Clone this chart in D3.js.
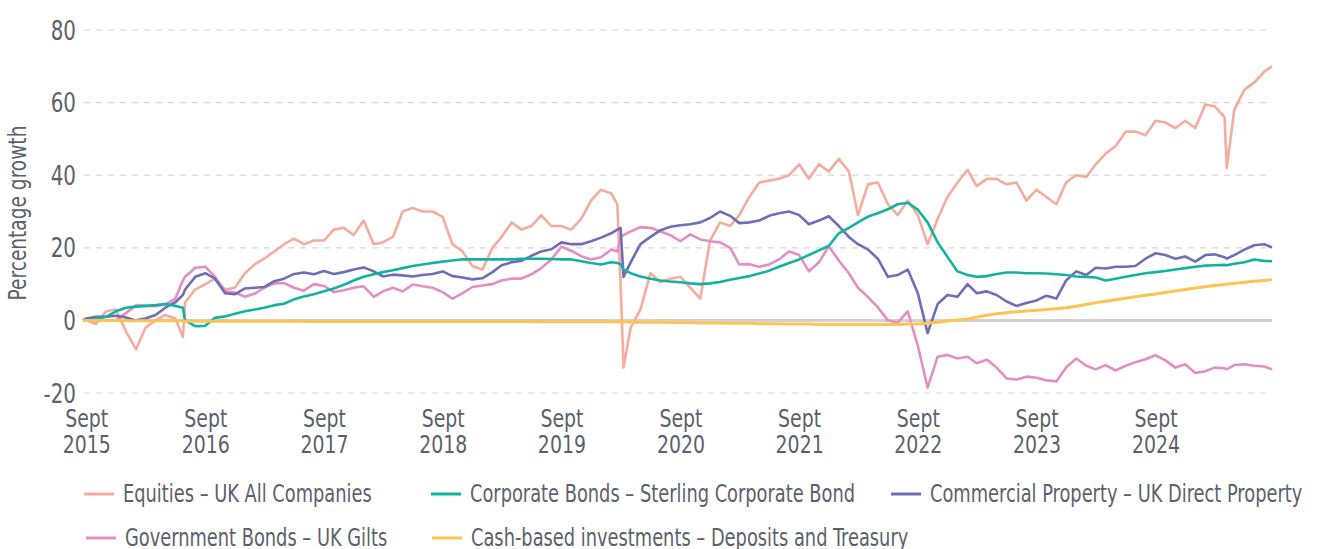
<!DOCTYPE html>
<meta charset="utf-8">
<script src="https://d3js.org/d3.v7.min.js"></script>
<style>
  body { margin: 0; background: #fff; }
  svg text { font-family: "DejaVu Sans Condensed", "DejaVu Sans", sans-serif; fill: #5b616a; }
</style>
<body>
<div id="canvas"></div>
<script>

// dates (monthly, plus a few extra days around sharp moves)
var dates = [
  "2015-08-22", "2015-09-01", "2015-10-01", "2015-11-01", "2015-12-01",
  "2016-01-01", "2016-02-01", "2016-03-01", "2016-04-01", "2016-05-01", "2016-06-01", "2016-06-24", "2016-07-01", "2016-08-01", "2016-09-01", "2016-10-01", "2016-11-01", "2016-12-01",
  "2017-01-01", "2017-02-01", "2017-03-01", "2017-04-01", "2017-05-01", "2017-06-01", "2017-07-01", "2017-08-01", "2017-09-01", "2017-10-01", "2017-11-01", "2017-12-01",
  "2018-01-01", "2018-02-01", "2018-03-01", "2018-04-01", "2018-05-01", "2018-06-01", "2018-07-01", "2018-08-01", "2018-09-01", "2018-10-01", "2018-11-01", "2018-12-01",
  "2019-01-01", "2019-02-01", "2019-03-01", "2019-04-01", "2019-05-01", "2019-06-01", "2019-07-01", "2019-08-01", "2019-09-01", "2019-10-01", "2019-11-01", "2019-12-01",
  "2020-01-01", "2020-02-01", "2020-02-20", "2020-03-01", "2020-03-10", "2020-04-01", "2020-05-01", "2020-06-01", "2020-07-01", "2020-08-01", "2020-09-01", "2020-10-01", "2020-11-01", "2020-12-01",
  "2021-01-01", "2021-02-01", "2021-03-01", "2021-04-01", "2021-05-01", "2021-06-01", "2021-07-01", "2021-08-01", "2021-09-01", "2021-10-01", "2021-11-01", "2021-12-01",
  "2022-01-01", "2022-02-01", "2022-03-01", "2022-04-01", "2022-05-01", "2022-06-01", "2022-07-01", "2022-08-01", "2022-09-01", "2022-10-01", "2022-11-01", "2022-12-01",
  "2023-01-01", "2023-02-01", "2023-03-01", "2023-04-01", "2023-05-01", "2023-06-01", "2023-07-01", "2023-08-01", "2023-09-01", "2023-10-01", "2023-11-01", "2023-12-01",
  "2024-01-01", "2024-02-01", "2024-03-01", "2024-04-01", "2024-05-01", "2024-06-01", "2024-07-01", "2024-08-01", "2024-09-01", "2024-10-01", "2024-11-01", "2024-12-01",
  "2025-01-01", "2025-02-01", "2025-03-01", "2025-04-01", "2025-04-08", "2025-05-01", "2025-06-01", "2025-07-01", "2025-08-01", "2025-08-25"
];

// percentage growth, same order as dates
var equities = [
  0, 0, -1, 2.5, 3,
  -3, -8, -2, 0, 1.5, 0.5, -4.5, 5, 8.5, 10, 11.5, 8.5, 9,
  13, 15.5, 17, 19, 21, 22.5, 21, 22, 22, 25, 25.5, 23.5,
  27.5, 21, 21.5, 23, 30, 31, 30, 30, 28.5, 21, 19, 15,
  14, 20, 23, 27, 25, 26, 29, 26, 26, 25, 28, 33,
  36, 35, 32, 10, -13, -2, 3, 13, 10.5, 11.5, 12, 9, 6, 22,
  27, 26, 29, 34, 38, 38.5, 39, 40, 43, 39, 43, 41,
  44.5, 41, 29, 37.5, 38, 32, 29, 33, 29, 21, 28, 34,
  38, 41.5, 37, 39, 39, 37.5, 38, 33, 36, 34, 32, 38,
  40, 39.5, 43, 46, 48, 52, 52, 51, 55, 54.5, 53, 55,
  53, 59.5, 59, 56, 42, 58, 63.5, 65.5, 68.5, 70
];
var corporateBonds = [
  0, 0, 0.5, 1, 2.5,
  3.5, 3.8, 4, 4.2, 4.5, 4, 3.5, 0, -1.6, -1.5, 0.7, 1.1, 1.8,
  2.5, 3, 3.5, 4.2, 4.6, 5.8, 6.6, 7.2, 8, 8.8, 9.8, 11,
  12, 12.7, 13.3, 13.8, 14.4, 15, 15.4, 15.8, 16.2, 16.5, 16.8, 16.8,
  16.8, 16.8, 16.8, 16.8, 17, 17, 17, 16.9, 16.8, 16.8, 16.3, 15.8,
  15.4, 16, 15.8, 15.5, 14, 13, 12.1, 11.5, 11, 10.7, 10.5, 10.2, 10, 10.2,
  10.6, 11.2, 11.7, 12.2, 12.9, 13.7, 14.8, 15.8, 16.8, 18, 19.3, 20.5,
  24, 25.5, 27, 28.6, 29.5, 30.6, 32, 32.4, 30.5, 27, 21.5, 17.5,
  13.5, 12.5, 12, 12.2, 12.8, 13.2, 13.2, 13, 13, 12.9, 12.7, 12.5,
  12.1, 12, 11.8, 11, 11.5, 12, 12.5, 13, 13.3, 13.6, 14, 14.4,
  14.8, 15.1, 15.2, 15.3, 15.2, 15.6, 16, 16.8, 16.4, 16.3
];
var property = [
  0, 0.5, 1, 1, 1.3,
  0.8, 0, 0.5, 1.5, 3.5, 5, 7, 8.5, 12, 13, 11.5, 7.5, 7.2,
  8.8, 9, 9.2, 10.8, 11.5, 12.8, 13.2, 12.7, 13.6, 12.8, 13.3, 14,
  14.6, 13.5, 12.1, 12.6, 12.4, 12.1, 12.5, 12.8, 13.5, 12.2, 11.8, 11.3,
  11.6, 13.3, 15.2, 16, 16.4, 17.8, 19, 19.6, 21.5, 21, 21, 21.8,
  22.8, 24, 25, 25.5, 12, 16, 21, 23, 24.8, 25.8, 26.2, 26.5, 27, 28.2,
  30, 28.8, 26.8, 27, 27.5, 28.8, 29.5, 30, 29, 26.5, 27.5, 28.7,
  26, 23, 21, 19.5, 17, 12, 12.5, 14, 7.5, -3.5, 4.5, 7,
  6.5, 10, 7.5, 8, 7, 5.2, 4, 4.8, 5.5, 6.8, 6, 11,
  13.5, 12.5, 14.5, 14.3, 14.8, 14.8, 15, 17, 18.5, 18, 17, 17.6,
  16.2, 18, 18.2, 17.4, 17, 18, 19.5, 20.7, 21, 20.1
];
var gilts = [
  0, 0.5, 0.5, 0, 0,
  2, 4.2, 4, 3.9, 4.4, 6, 11, 12, 14.5, 14.8, 12, 8, 7.7,
  6.5, 7.4, 9, 10.2, 10.3, 9, 8.2, 10, 9.5, 7.8, 8.3, 9,
  9.4, 6.5, 8, 9, 8, 9.9, 9.4, 9, 7.8, 6, 7.5, 9.2,
  9.6, 10, 11, 11.5, 11.5, 12.7, 14.4, 16.8, 20.3, 19.2, 17.7, 16.8,
  17.4, 19.5, 19, 23, 23.5, 24.5, 25.7, 25.5, 24.5, 23.5, 21.8, 23.7, 22.3, 21.8,
  21.5, 20, 15.4, 15.5, 14.8, 15.4, 16.8, 19, 18, 13.5, 16, 20.4,
  16.5, 13, 9, 6.4, 3.6, 0, -0.6, 2.5, -7, -18.5, -10, -9.5,
  -10.5, -10, -11.8, -10.8, -13, -16, -16.3, -15.5, -15.8, -16.5, -16.8, -13,
  -10.5, -12.5, -13.5, -12.3, -13.8, -12.5, -11.5, -10.7, -9.6, -11, -13, -12.1,
  -14.5, -14, -13, -13.2, -13.5, -12.3, -12.1, -12.5, -12.7, -13.5
];
var cash = [
  0, 0, 0, 0, 0,
  -0.1, -0.1, -0.1, -0.1, -0.1, -0.1, -0.1, -0.2, -0.2, -0.2, -0.2, -0.2, -0.2,
  -0.2, -0.2, -0.2, -0.2, -0.2, -0.2, -0.3, -0.3, -0.3, -0.3, -0.3, -0.3,
  -0.3, -0.3, -0.3, -0.3, -0.3, -0.3, -0.3, -0.3, -0.3, -0.3, -0.3, -0.3,
  -0.3, -0.3, -0.3, -0.3, -0.3, -0.3, -0.4, -0.4, -0.4, -0.4, -0.4, -0.4,
  -0.4, -0.4, -0.4, -0.4, -0.4, -0.5, -0.5, -0.5, -0.5, -0.6, -0.6, -0.6, -0.7, -0.7,
  -0.7, -0.8, -0.8, -0.8, -0.9, -0.9, -0.9, -1.0, -1.0, -1.0, -1.1, -1.1,
  -1.1, -1.1, -1.1, -1.1, -1.1, -1.1, -1.1, -1.0, -1.0, -0.8, -0.5, -0.2,
  0.1, 0.4, 0.9, 1.4, 1.8, 2.1, 2.4, 2.6, 2.8, 3.0, 3.2, 3.5,
  3.9, 4.4, 4.9, 5.3, 5.7, 6.1, 6.5, 6.9, 7.3, 7.7, 8.1, 8.5,
  8.9, 9.3, 9.6, 9.9, 10.0, 10.2, 10.5, 10.8, 11.0, 11.2
];

var seriesNames = [
  "Equities – UK All Companies",
  "Corporate Bonds – Sterling Corporate Bond",
  "Commercial Property – UK Direct Property",
  "Government Bonds – UK Gilts",
  "Cash-based investments – Deposits and Treasury"
];
var colors = ["#f5ac9c", "#12b2a3", "#6f6db8", "#e48ec3", "#fdc451"];
var seriesValues = [equities, corporateBonds, property, gilts, cash];

var yTicks = [-20, 0, 20, 40, 60, 80];
var xTicks = ["2015-09-01", "2016-09-01", "2017-09-01", "2018-09-01", "2019-09-01",
              "2020-09-01", "2021-09-01", "2022-09-01", "2023-09-01", "2024-09-01"];

var width = 1320;
var height = 549;
var parse = d3.timeParse("%Y-%m-%d");

// the reference font is narrower than anything installed, so squeeze the text
function squeeze(sel, f) {
  sel.each(function() {
    var w = this.getComputedTextLength();
    d3.select(this).attr("textLength", w * f).attr("lengthAdjust", "spacingAndGlyphs");
  });
}

var svg = d3.select("#canvas")
  .append("svg")
  .attr("width", width)
  .attr("height", height);

var x = d3.scaleTime()
  .domain([parse(dates[0]), parse(dates[dates.length - 1])])
  .range([83, 1272]);

var y = d3.scaleLinear()
  .domain([-20, 80])
  .range([393, 30]);

// dashed grid lines
svg.append("g")
  .selectAll("line")
  .data(yTicks.filter(function(d) { return d !== 0; }))
  .enter()
  .append("line")
  .attr("x1", 84)
  .attr("x2", 1272)
  .attr("y1", function(d) { return y(d); })
  .attr("y2", function(d) { return y(d); })
  .attr("stroke", "#d6d6d6")
  .attr("stroke-width", 1.2)
  .attr("stroke-dasharray", "6,6");

// zero line
svg.append("line")
  .attr("x1", 84)
  .attr("x2", 1272)
  .attr("y1", y(0))
  .attr("y2", y(0))
  .attr("stroke", "#d2d2d2")
  .attr("stroke-width", 3);

// y axis
var yAxis = svg.append("g")
  .attr("transform", "translate(76,0)")
  .call(d3.axisLeft(y).tickValues(yTicks).tickSize(0).tickPadding(0)
    .tickFormat(function(d) { return d; }));
yAxis.select(".domain").remove();
yAxis.selectAll("text")
  .style("font-size", "26px")
  .attr("dy", "0.35em")
  .call(squeeze, 0.85);

svg.append("text")
  .attr("transform", "translate(26,213) rotate(-90)")
  .attr("text-anchor", "middle")
  .style("font-size", "24px")
  .text("Percentage growth")
  .call(squeeze, 0.86);

// x axis, two line labels
var xAxis = svg.append("g")
  .attr("transform", "translate(0,400)")
  .call(d3.axisBottom(x).tickValues(xTicks.map(parse)).tickSize(0).tickPadding(0));
xAxis.select(".domain").remove();
xAxis.selectAll(".tick text")
  .attr("y", 27)
  .attr("dy", null)
  .style("font-size", "25px")
  .text("Sept")
  .call(squeeze, 0.84);
xAxis.selectAll(".tick")
  .append("text")
  .attr("y", 53)
  .attr("text-anchor", "middle")
  .style("font-size", "25px")
  .text(function(d) { return d3.timeFormat("%Y")(d); })
  .call(squeeze, 0.84);

// lines
var line = d3.line()
  .x(function(d, i) { return x(parse(dates[i])); })
  .y(function(d) { return y(d); });

var drawOrder = [0, 3, 2, 1, 4];
svg.append("g")
  .selectAll("path")
  .data(drawOrder)
  .enter()
  .append("path")
  .attr("d", function(k) { return line(seriesValues[k]); })
  .attr("fill", "none")
  .attr("stroke", function(k) { return colors[k]; })
  .attr("stroke-width", function(k) { return k === 4 ? 3 : 2.6; })
  .attr("stroke-linejoin", "round");

// legend
var legendPos = [[84, 494], [431, 494], [891, 494], [86, 538], [432, 538]];
var legend = svg.append("g")
  .selectAll("g")
  .data(seriesNames)
  .enter()
  .append("g")
  .attr("transform", function(d, i) { return "translate(" + legendPos[i][0] + "," + legendPos[i][1] + ")"; });
legend.append("line")
  .attr("x1", 0).attr("x2", 30)
  .attr("stroke", function(d, i) { return colors[i]; })
  .attr("stroke-width", 3);
legend.append("text")
  .attr("x", 39)
  .attr("dy", "0.35em")
  .style("font-size", "24px")
  .text(function(d) { return d; })
  .call(squeeze, 0.825);

</script>
</body>
